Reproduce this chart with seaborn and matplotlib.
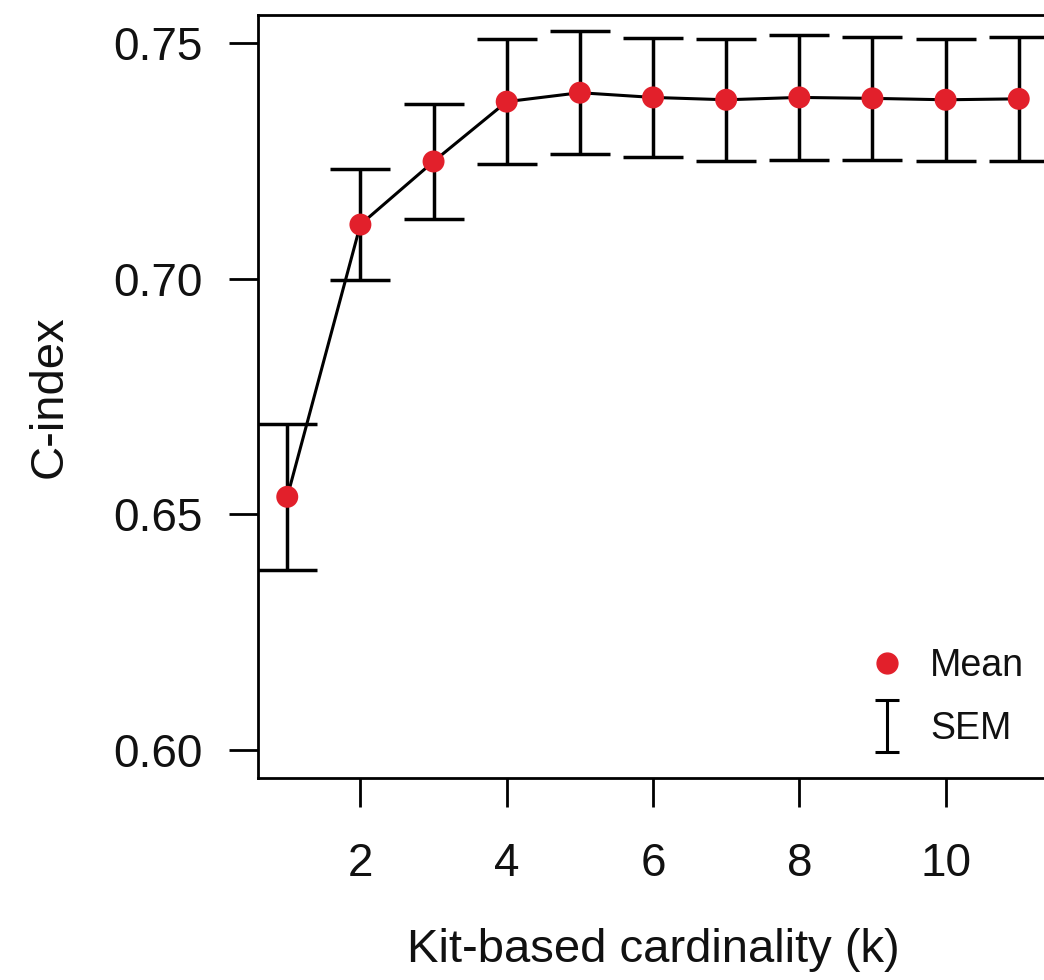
import numpy as np
import pandas as pd
import matplotlib
matplotlib.use("Agg")
import matplotlib.pyplot as plt
from matplotlib.path import Path
import seaborn as sns

# Data
k_values = [1, 2, 3, 4, 5, 6, 7, 8, 9, 10, 11]
mean_cindex = [0.6537, 0.7115, 0.7249, 0.7376, 0.7395, 0.7385, 0.7380, 0.7385, 0.7383, 0.7380, 0.7382]
sem_cindex = [0.0155, 0.0118, 0.0123, 0.0133, 0.0130, 0.0127, 0.0129, 0.0133, 0.0131, 0.0130, 0.0131]
x_ticks = [2, 4, 6, 8, 10]
y_ticks = [0.60, 0.65, 0.70, 0.75]

sns.set_theme(style="white")
plt.rcParams['font.family'] = ['Liberation Sans', 'DejaVu Sans']

df = pd.DataFrame({"k": k_values, "mean": mean_cindex, "sem": sem_cindex})

fig = plt.figure(figsize=(10.44, 9.8), dpi=100)
ax = fig.add_axes([258/1044, 202/980, (1048-258)/1044, (965-202)/980])

red = "#E2202B"

ax.errorbar(df["k"], df["mean"], yerr=df["sem"], fmt="none", ecolor="black",
            elinewidth=2.5, capsize=21.5, capthick=2.5, zorder=2)
sns.lineplot(data=df, x="k", y="mean", color="black", linewidth=2.2, ax=ax, zorder=3)
sns.scatterplot(data=df, x="k", y="mean", color=red, s=250, edgecolor="none", ax=ax, zorder=4)

ax.set_xlim(0.6, 11.4)
ax.set_ylim(0.594, 0.756)
ax.set_xticks(x_ticks)
ax.set_xticklabels([str(v) for v in x_ticks])
ax.set_yticks(y_ticks)
ax.set_yticklabels([f"{v:.2f}" for v in y_ticks])

for s in ax.spines.values():
    s.set_linewidth(2.0)
    s.set_color("black")

ax.tick_params(axis="both", which="major", direction="out", length=21, width=2.0,
               color="black", labelsize=33, labelcolor="#111111",
               bottom=True, left=True)
ax.tick_params(axis="x", pad=25)
ax.tick_params(axis="y", pad=19)

ax.set_xlabel("Kit-based cardinality (k)", fontsize=34, labelpad=30, color="#111111")
ax.set_ylabel("C-index", fontsize=34, labelpad=30, color="#111111")

# Legend
sem_marker = Path([(-0.45, 1), (0.45, 1), (0, 1), (0, -1), (-0.45, -1), (0.45, -1)],
                  [Path.MOVETO, Path.LINETO, Path.MOVETO, Path.LINETO, Path.MOVETO, Path.LINETO])
h_mean = plt.Line2D([], [], marker="o", linestyle="none", color=red, markersize=15)
h_sem = plt.Line2D([], [], marker=sem_marker, linestyle="none", color="black",
                   markerfacecolor="none", markeredgewidth=2.2, markersize=38)
leg = ax.legend([h_mean, h_sem], ["Mean", "SEM"], loc="lower left",
                bbox_to_anchor=(0.725, -0.004), frameon=False, fontsize=27,
                handlelength=1.2, handletextpad=0.55, labelspacing=0.72)
for t in leg.get_texts():
    t.set_color("#111111")

fig.savefig("out.png", dpi=100)
